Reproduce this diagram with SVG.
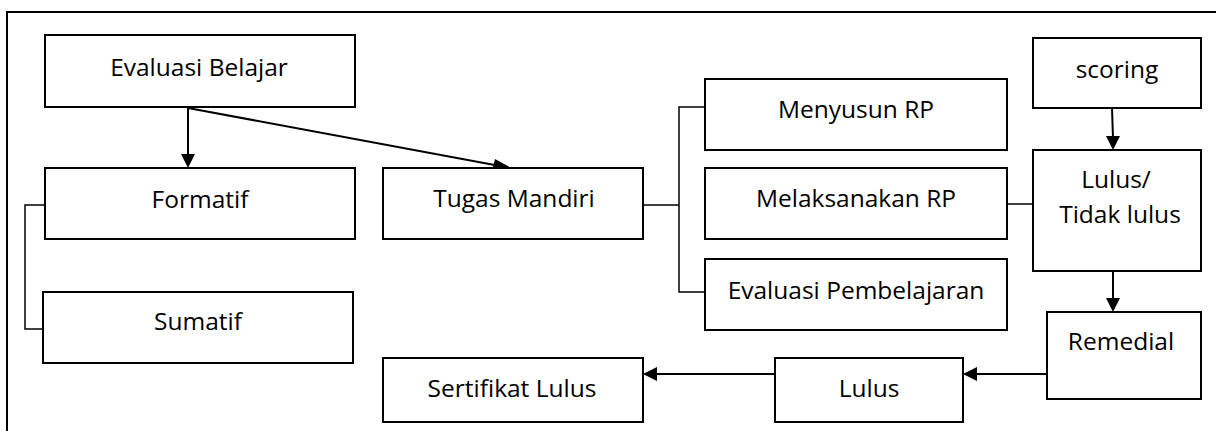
<svg xmlns="http://www.w3.org/2000/svg" width="1216" height="431" viewBox="0 0 1216 431">
  <style>
    .box { fill: #fff; stroke: #000; stroke-width: 2; }
    .lbl { font-family: "Open Sans", "Noto Sans", sans-serif; font-size: 24.5px; fill: #000; text-anchor: middle; }
    .link { fill: none; stroke: #000; stroke-width: 1.5; }
    .line { fill: none; stroke: #000; stroke-width: 2; }
    .head { fill: #000; }
    .frame { fill: none; stroke: #000; stroke-width: 2; }
  </style>
  <rect width="1216" height="431" fill="#fff"/>

  <!-- page frame: top and left edges only -->
  <path class="frame" d="M7,431 V12 H1216"/>

  <g id="connectors">
    <!-- Evaluasi Belajar to Formatif -->
    <path class="line" d="M188,108 V156"/>
    <path class="head" d="M181,154 L188,168 L195,154 Z"/>
    <!-- Evaluasi Belajar to Tugas Mandiri -->
    <path class="line" d="M188,108 L500,166"/>
    <path class="head" d="M495,159 L513,169 L492,172 Z"/>
    <!-- brackets -->
    <path class="link" d="M45,205 H25 V329 H43"/>
    <path class="link" d="M643,205 H679"/>
    <path class="link" d="M705,107 H679 V292 H705"/>
    <path class="link" d="M1007,204 H1033"/>
    <!-- scoring to Lulus/Tidak lulus -->
    <path class="line" d="M1112,108 L1113,138"/>
    <path class="head" d="M1106,136 L1113,150 L1120,136 Z"/>
    <!-- Lulus/Tidak lulus to Remedial -->
    <path class="line" d="M1113,271 V300"/>
    <path class="head" d="M1106,298 L1113,312 L1120,298 Z"/>
    <!-- Remedial to Lulus -->
    <path class="line" d="M1047,374 H975"/>
    <path class="head" d="M977,367 L963,374 L977,381 Z"/>
    <!-- Lulus to Sertifikat Lulus -->
    <path class="line" d="M775,374 H655"/>
    <path class="head" d="M657,367 L643,374 L657,381 Z"/>
  </g>

  <g id="evaluasi-belajar">
    <rect class="box" x="45" y="35" width="310" height="72"/>
    <text class="lbl" x="199" y="76">Evaluasi Belajar</text>
  </g>
  <g id="formatif">
    <rect class="box" x="45" y="168" width="310" height="71"/>
    <text class="lbl" x="200" y="208">Formatif</text>
  </g>
  <g id="sumatif">
    <rect class="box" x="43" y="292" width="310" height="71"/>
    <text class="lbl" x="198" y="330">Sumatif</text>
  </g>
  <g id="tugas-mandiri">
    <rect class="box" x="383" y="168" width="260" height="71"/>
    <text class="lbl" x="514" y="207">Tugas Mandiri</text>
  </g>
  <g id="menyusun-rp">
    <rect class="box" x="705" y="79" width="302" height="71"/>
    <text class="lbl" x="856" y="118">Menyusun RP</text>
  </g>
  <g id="melaksanakan-rp">
    <rect class="box" x="705" y="168" width="302" height="71"/>
    <text class="lbl" x="856" y="207">Melaksanakan RP</text>
  </g>
  <g id="evaluasi-pembelajaran">
    <rect class="box" x="705" y="259" width="302" height="71"/>
    <text class="lbl" x="856" y="299">Evaluasi Pembelajaran</text>
  </g>
  <g id="scoring">
    <rect class="box" x="1033" y="38" width="168" height="70"/>
    <text class="lbl" x="1117" y="78">scoring</text>
  </g>
  <g id="lulus-tidak-lulus">
    <rect class="box" x="1033" y="150" width="168" height="121"/>
    <text class="lbl" x="1116" y="188">Lulus/</text>
    <text class="lbl" x="1120" y="223">Tidak lulus</text>
  </g>
  <g id="remedial">
    <rect class="box" x="1047" y="312" width="154" height="87"/>
    <text class="lbl" x="1121" y="350">Remedial</text>
  </g>
  <g id="lulus">
    <rect class="box" x="775" y="358" width="188" height="64"/>
    <text class="lbl" x="869" y="397">Lulus</text>
  </g>
  <g id="sertifikat-lulus">
    <rect class="box" x="383" y="358" width="260" height="64"/>
    <text class="lbl" x="512" y="397">Sertifikat Lulus</text>
  </g>
</svg>
